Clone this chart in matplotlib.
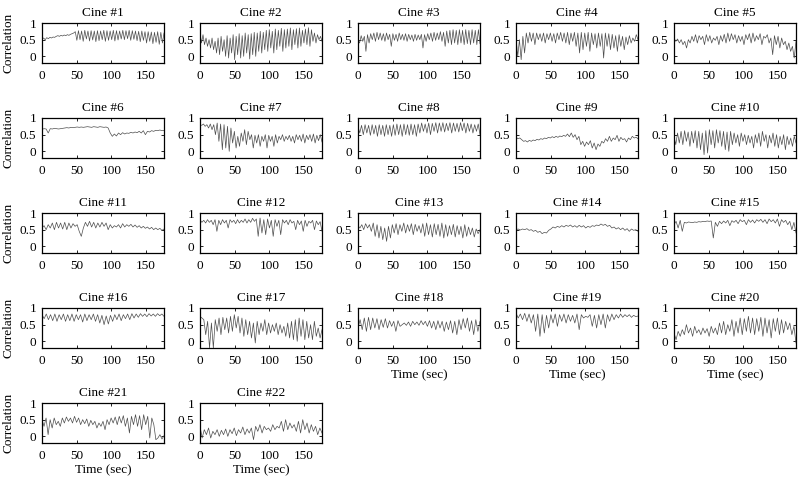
import numpy as np
import matplotlib
matplotlib.use("Agg")
import matplotlib.pyplot as plt

plt.rcParams['font.family'] = ['Liberation Serif', 'DejaVu Serif']

titles = [f"Cine #{i}" for i in range(1, 23)]
x_ticks = [0, 50, 100, 150]
y_ticks = [0, 0.5, 1]
y_ticklabels = ["0", "0.5", "1"]
duration = 176

c1 = [0.52,0.55,0.50,0.56,0.53,0.57,0.55,0.58,0.57,0.60,0.62,0.60,0.63,0.61,0.64,0.62,0.65,0.63,0.66,0.68,0.70,0.74,
      0.48,0.77,0.50,0.76,0.45,0.78,0.52,0.76,0.46,0.77,0.49,0.76,0.44,0.77,0.47,0.76,0.50,0.78,0.45,0.77,0.48,0.76,
      0.50,0.78,0.46,0.77,0.49,0.76,0.52,0.78,0.50,0.77,0.53,0.78,0.48,0.77,0.51,0.76,0.47,0.75,0.44,0.76,0.48,0.74,
      0.40,0.74,0.45,0.73,0.38,0.72,0.42,0.74,0.36,0.72,0.40,0.70]
c2 = [0.72,0.40,0.65,0.35,0.55,0.30,0.50,0.25,0.55,0.20,0.45,0.10,0.55,0.05,0.60,0.15,0.50,0.00,0.62,-0.05,0.55,0.10,
      0.65,-0.10,0.60,0.05,0.68,-0.05,0.62,0.00,0.70,0.10,0.65,-0.08,0.68,0.05,0.72,0.00,0.70,0.15,0.75,0.10,0.72,0.20,
      0.78,0.15,0.80,0.25,0.75,0.10,0.82,0.20,0.78,0.30,0.84,0.15,0.80,0.25,0.82,0.30,0.85,0.20,0.80,0.35,0.83,0.25,
      0.85,0.30,0.78,0.40,0.82,0.35,0.86,0.30,0.80,0.45,0.70,0.40,0.65,0.50,0.60,0.45]
c3 = [0.50,0.40,0.62,0.45,0.60,0.15,0.65,0.40,0.68,0.50,0.70,0.45,0.72,0.50,0.70,0.48,0.68,0.45,0.70,0.50,0.66,0.30,
      0.68,0.48,0.66,0.45,0.70,0.50,0.66,0.48,0.68,0.45,0.66,0.50,0.64,0.45,0.66,0.48,0.64,0.50,0.66,0.25,0.65,0.45,
      0.68,0.50,0.70,0.45,0.72,0.48,0.70,0.50,0.74,0.45,0.72,0.30,0.76,0.40,0.78,0.35,0.80,0.40,0.78,0.35,0.80,0.40,
      0.78,0.35,0.80,0.38,0.78,0.35,0.80,0.40,0.78,0.35,0.80,0.38]
c4 = [0.55,0.00,0.50,-0.10,0.60,0.10,0.70,0.40,0.72,0.45,0.70,0.35,0.70,0.50,0.68,0.45,0.70,0.40,0.68,0.50,0.70,0.45,
      0.68,0.40,0.70,0.50,0.72,0.45,0.70,0.40,0.72,0.35,0.70,0.45,0.72,0.30,0.70,0.10,0.72,0.20,0.70,0.30,0.72,0.15,
      0.70,0.35,0.68,0.25,0.70,0.30,0.68,-0.05,0.70,0.30,0.68,0.20,0.66,0.25,0.62,0.15,0.65,0.30,0.60,0.20,0.58,0.35,
      0.62,0.40,0.55,0.45,0.65,0.50]
c5 = [0.55,0.45,0.52,0.40,0.50,0.35,0.45,0.25,0.50,0.40,0.60,0.45,0.65,0.40,0.62,0.50,0.60,0.35,0.65,0.45,0.62,0.40,
      0.55,0.48,0.60,0.35,0.62,0.45,0.66,0.40,0.70,0.45,0.68,0.50,0.65,0.40,0.62,0.45,0.60,0.35,0.65,0.50,0.68,0.40,
      0.70,0.45,0.62,0.50,0.68,0.35,0.60,0.55,0.65,0.40,0.55,0.05,0.62,0.35,0.60,0.25,0.55,0.35,0.45,0.20,0.40,0.15,
      0.30,-0.05,0.45]
c6 = [0.66,0.68,0.67,0.55,0.68,0.67,0.69,0.68,0.67,0.68,0.69,0.70,0.71,0.70,0.72,0.71,0.72,0.73,0.72,0.73,0.72,0.73,
      0.74,0.73,0.72,0.74,0.73,0.72,0.74,0.73,0.72,0.73,0.70,0.55,0.45,0.52,0.46,0.55,0.50,0.56,0.52,0.55,0.54,0.57,
      0.55,0.58,0.56,0.60,0.55,0.62,0.50,0.60,0.58,0.62,0.60,0.63,0.62,0.64,0.62,0.63]
c7 = [0.80,0.78,0.82,0.75,0.80,0.70,0.82,0.65,0.80,0.50,0.85,0.30,0.82,0.05,0.80,0.10,0.75,0.00,0.70,0.25,0.60,0.10,
      0.45,0.15,0.55,0.30,0.65,0.20,0.60,0.35,0.50,0.10,0.48,0.25,0.50,0.15,0.45,0.30,0.50,0.10,0.48,0.30,0.45,0.15,
      0.50,0.25,0.45,0.35,0.50,0.30,0.45,0.35,0.48,0.30,0.45,0.25,0.50,0.35,0.48,0.30,0.52,0.25,0.48,0.35,0.50,0.30,
      0.52,0.25,0.48,0.32,0.50,0.28]
c8 = [0.75,0.55,0.78,0.50,0.80,0.55,0.78,0.48,0.80,0.52,0.78,0.45,0.80,0.50,0.78,0.45,0.80,0.50,0.78,0.45,0.80,0.48,
      0.82,0.50,0.80,0.45,0.82,0.50,0.80,0.48,0.82,0.50,0.80,0.45,0.82,0.55,0.85,0.60,0.82,0.55,0.85,0.50,0.84,0.60,
      0.86,0.55,0.85,0.60,0.86,0.58,0.84,0.62,0.86,0.55,0.85,0.60,0.84,0.58,0.86,0.62,0.85,0.55,0.84,0.60,0.82,0.55,
      0.80,0.60,0.82,0.50]
c9 = [0.42,0.38,0.40,0.35,0.30,0.32,0.28,0.33,0.30,0.34,0.32,0.36,0.34,0.38,0.36,0.40,0.38,0.42,0.40,0.44,0.41,0.45,
      0.42,0.46,0.44,0.48,0.45,0.52,0.44,0.55,0.42,0.50,0.35,0.45,0.20,0.30,0.15,0.28,0.20,0.32,0.10,0.25,0.05,0.22,
      0.15,0.30,0.25,0.38,0.30,0.45,0.30,0.40,0.35,0.48,0.30,0.42,0.35,0.38,0.28,0.40,0.35,0.45,0.40,0.42,0.38]
c10 = [0.45,0.20,0.55,0.25,0.60,0.20,0.62,0.30,0.58,0.15,0.60,0.25,0.62,0.10,0.60,0.05,0.55,-0.10,0.62,-0.05,0.65,0.20,
       0.62,0.10,0.65,0.25,0.62,0.15,0.60,0.05,0.58,0.00,0.60,0.20,0.55,0.25,0.50,0.15,0.55,0.30,0.50,0.20,0.48,0.25,
       0.45,0.10,0.50,0.25,0.55,0.15,0.60,0.30,0.50,0.10,0.48,0.25,0.55,0.15,0.50,0.10,0.45,0.20,0.50,0.05,0.45,0.20,
       0.40,0.15,0.45,0.25]
c11 = [0.55,0.62,0.50,0.65,0.55,0.70,0.50,0.72,0.55,0.70,0.52,0.72,0.50,0.70,0.55,0.68,0.60,0.65,0.45,0.30,0.55,0.72,
       0.60,0.75,0.58,0.72,0.55,0.70,0.58,0.72,0.60,0.70,0.50,0.65,0.55,0.62,0.58,0.65,0.55,0.68,0.58,0.65,0.60,0.66,
       0.58,0.64,0.57,0.62,0.55,0.60,0.54,0.58,0.52,0.57,0.50,0.55,0.50,0.54,0.48,0.52]
c12 = [0.80,0.72,0.78,0.70,0.80,0.72,0.78,0.65,0.80,0.45,0.78,0.65,0.80,0.70,0.78,0.55,0.80,0.72,0.78,0.68,0.80,0.70,
       0.78,0.72,0.82,0.70,0.80,0.72,0.84,0.75,0.82,0.30,0.85,0.40,0.80,0.35,0.82,0.55,0.78,0.30,0.80,0.60,0.78,0.35,
       0.80,0.70,0.78,0.65,0.80,0.70,0.75,0.50,0.78,0.65,0.76,0.45,0.78,0.60,0.75,0.70,0.78,0.50,0.76,0.65,0.74,0.45]
c13 = [0.62,0.55,0.65,0.50,0.68,0.55,0.65,0.45,0.70,0.30,0.65,0.25,0.60,0.20,0.55,0.15,0.60,0.25,0.65,0.40,0.68,0.35,
       0.65,0.45,0.70,0.40,0.65,0.45,0.68,0.35,0.66,0.45,0.62,0.40,0.68,0.30,0.70,0.35,0.65,0.28,0.68,0.35,0.66,0.30,
       0.70,0.25,0.65,0.30,0.62,0.35,0.66,0.28,0.62,0.35,0.60,0.25,0.65,0.30,0.58,0.35,0.55,0.28,0.52,0.38,0.50]
c14 = [0.50,0.52,0.49,0.52,0.50,0.53,0.48,0.50,0.45,0.48,0.42,0.45,0.38,0.42,0.40,0.48,0.52,0.58,0.55,0.60,0.57,0.62,
       0.58,0.63,0.60,0.64,0.58,0.62,0.57,0.63,0.58,0.62,0.55,0.60,0.57,0.62,0.60,0.64,0.62,0.67,0.63,0.66,0.60,0.63,
       0.55,0.58,0.52,0.56,0.50,0.55,0.48,0.53,0.45,0.52,0.48,0.50,0.45]
c15 = [0.65,0.75,0.55,0.78,0.45,0.72,0.70,0.73,0.72,0.71,0.73,0.72,0.74,0.73,0.75,0.74,0.76,0.75,0.76,0.25,0.72,0.60,
       0.75,0.68,0.76,0.70,0.78,0.62,0.77,0.72,0.78,0.68,0.80,0.74,0.78,0.65,0.80,0.72,0.79,0.70,0.80,0.75,0.81,0.72,
       0.80,0.68,0.82,0.74,0.80,0.70,0.82,0.60,0.80,0.72,0.78,0.65,0.75,0.50,0.72,0.40]
c16 = [0.80,0.68,0.82,0.65,0.80,0.62,0.82,0.60,0.80,0.65,0.82,0.60,0.80,0.62,0.82,0.60,0.80,0.65,0.80,0.58,0.82,0.62,
       0.80,0.65,0.82,0.60,0.80,0.55,0.78,0.50,0.76,0.52,0.78,0.60,0.80,0.65,0.82,0.62,0.80,0.68,0.82,0.65,0.83,0.70,
       0.82,0.72,0.83,0.75,0.82,0.74,0.83,0.76,0.82,0.75,0.83,0.77,0.82,0.75]
c17 = [0.75,0.70,0.65,0.20,0.60,-0.20,0.55,-0.20,0.65,0.30,0.70,0.20,0.72,0.35,0.70,0.25,0.75,0.30,0.80,0.40,0.75,0.25,
       0.70,0.15,0.65,0.20,0.60,0.10,0.55,-0.05,0.60,0.20,0.55,0.30,0.65,0.20,0.55,0.25,0.50,0.30,0.55,0.20,0.50,0.25,
       0.45,0.15,0.55,0.10,0.60,0.05,0.65,0.00,0.70,0.15,0.65,0.05,0.60,0.10,0.50,0.05,0.60,0.15,0.40,0.10,0.35]
c18 = [0.40,0.65,0.35,0.70,0.30,0.72,0.35,0.70,0.40,0.68,0.35,0.65,0.42,0.68,0.40,0.62,0.45,0.60,0.30,0.62,0.45,0.50,
       0.55,0.48,0.58,0.45,0.60,0.50,0.58,0.48,0.62,0.50,0.60,0.45,0.62,0.40,0.60,0.35,0.62,0.40,0.60,0.30,0.58,0.35,
       0.62,0.25,0.60,0.20,0.65,0.35,0.68,0.40,0.70,0.30,0.62,0.20,0.65,0.30,0.60]
c19 = [0.85,0.70,0.82,0.65,0.84,0.60,0.82,0.55,0.80,0.30,0.82,0.15,0.80,0.25,0.78,0.40,0.80,0.55,0.82,0.45,0.80,0.60,
       0.82,0.55,0.80,0.60,0.78,0.55,0.82,0.35,0.80,0.70,0.75,0.72,0.80,0.45,0.78,0.40,0.80,0.50,0.82,0.40,0.80,0.60,
       0.82,0.65,0.80,0.70,0.82,0.72,0.80,0.74,0.80,0.72,0.78,0.74,0.76]
c20 = [0.25,0.05,0.30,0.15,0.35,0.20,0.50,0.25,0.40,0.15,0.45,0.25,0.35,0.20,0.40,0.25,0.38,0.15,0.45,0.25,0.40,0.20,
       0.55,0.25,0.60,0.20,0.50,0.30,0.65,0.15,0.60,0.25,0.70,0.20,0.68,0.30,0.75,0.25,0.70,0.20,0.68,0.30,0.72,0.15,
       0.70,0.25,0.65,0.10,0.68,0.30,0.70,0.20,0.65,0.25,0.60,0.35,0.55,0.20,0.45,-0.05]
c21 = [0.50,0.30,0.55,0.05,0.50,0.25,0.55,0.35,0.45,0.30,0.55,0.40,0.58,0.45,0.55,0.40,0.60,0.42,0.55,0.35,0.50,0.38,
       0.52,0.30,0.48,0.35,0.45,0.25,0.40,0.30,0.45,0.20,0.50,0.35,0.55,0.40,0.58,0.35,0.60,0.40,0.62,0.30,0.55,0.10,
       0.60,0.35,0.65,0.30,0.62,0.20,0.65,0.35,0.60,-0.05,0.55,0.35,-0.10,-0.05,0.05,-0.08,0.02]
c22 = [0.30,-0.05,0.20,0.05,0.25,-0.05,0.15,0.05,0.20,0.00,0.18,0.05,0.22,0.00,0.20,0.08,0.25,0.02,0.20,0.10,0.28,0.05,
       0.22,0.10,0.25,-0.10,0.30,0.15,0.35,0.10,0.30,0.20,0.25,0.15,0.35,0.20,0.30,0.25,0.45,0.15,0.50,0.20,0.40,0.25,
       0.35,0.15,0.45,0.10,0.50,0.20,0.40,0.10,0.35,0.15,0.30,0.05,0.25,0.10]

series = [c1, c2, c3, c4, c5, c6, c7, c8, c9, c10, c11, c12, c13, c14, c15, c16, c17, c18, c19, c20, c21, c22]

W, H = 800, 484
fig = plt.figure(figsize=(W / 100, H / 100), dpi=100)

col_left = [42, 200, 358, 516, 674]
row_top = [23, 118, 213, 308, 403]
aw, ah = 122, 40
fs = 9.5

for i, (vals, title) in enumerate(zip(series, titles)):
    r, c = divmod(i, 5)
    ax = fig.add_axes([col_left[c] / W, 1 - (row_top[r] + ah) / H, aw / W, ah / H])
    t = np.linspace(0, duration, len(vals))
    ax.plot(t, vals, color='0.3', lw=0.5)
    ax.set_xlim(0, duration)
    ax.set_ylim(-0.2, 1)
    ax.set_xticks(x_ticks)
    ax.set_yticks(y_ticks)
    ax.set_yticklabels(y_ticklabels)
    ax.tick_params(direction='in', length=2, width=0.6, labelsize=fs,
                   top=True, right=True)
    ax.tick_params(axis='x', pad=5)
    ax.tick_params(axis='y', pad=4)
    for s in ax.spines.values():
        s.set_linewidth(0.9)
    ax.set_title(title, fontsize=fs, pad=5)
    if c == 0:
        ax.set_ylabel("Correlation", fontsize=fs, labelpad=4)
    if i >= 17:
        ax.set_xlabel("Time (sec)", fontsize=fs, labelpad=2)

fig.savefig("out.png", dpi=100)
